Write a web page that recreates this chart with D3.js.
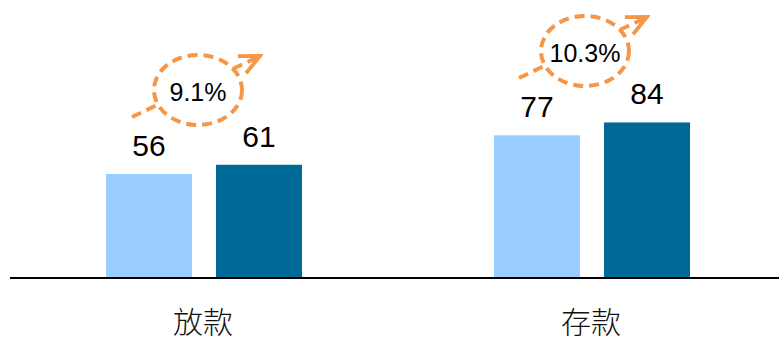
<!DOCTYPE html>
<html><head><meta charset="utf-8">
<script src="https://cdn.jsdelivr.net/npm/d3@7"></script>
<style>html,body{margin:0;padding:0;background:#fff;}</style>
</head><body><svg id="c" width="779" height="341"></svg>
<script>
const categories = ["放款", "存款"];
const seriesPrev = [56, 77];
const seriesCurr = [61, 84];
const growthLabels = ["9.1%", "10.3%"];

const svg = d3.select("#c");
const x1 = d3.scaleBand().domain(["prev","curr"]).range([0, 196]).paddingInner(24/110).paddingOuter(0);
const y = d3.scaleLinear().domain([0, 100]).range([277, 93]);
const colors = {prev: "#99CCFF", curr: "#006A96"};
const orange = "#F79646";
const offs = [106, 494];

const data = categories.map((c, i) => ({cat: c, vals: [{k:"prev", v: seriesPrev[i]}, {k:"curr", v: seriesCurr[i]}], g: growthLabels[i]}));

const groups = svg.selectAll("g.grp").data(data).join("g").attr("class","grp")
  .attr("transform", (d,i) => `translate(${offs[i]},0)`);

groups.selectAll("rect").data(d => d.vals).join("rect")
  .attr("x", d => x1(d.k)).attr("width", x1.bandwidth())
  .attr("y", d => y(d.v)).attr("height", d => y(0) - y(d.v))
  .attr("fill", d => colors[d.k]);

groups.selectAll("text.val").data(d => d.vals).join("text").attr("class","val")
  .attr("x", d => x1(d.k) + x1.bandwidth()/2)
  .attr("y", d => y(d.v) - 18)
  .attr("text-anchor","middle")
  .attr("font-family","Liberation Sans, Arial, sans-serif")
  .attr("font-size", 30)
  .attr("fill","#000")
  .text(d => d.v);

// axis line
svg.append("line").attr("x1",10).attr("x2",779).attr("y1",278).attr("y2",278)
  .attr("stroke","#000").attr("stroke-width",2);

// category labels
groups.append("text")
  .attr("x", 97).attr("y", 333)
  .attr("text-anchor","middle")
  .attr("font-family","Noto Sans CJK TC, Noto Sans CJK SC, sans-serif")
  .attr("font-weight", 300)
  .attr("font-size", 30)
  .attr("fill","#111")
  .text(d => d.cat);

// growth annotations
svg.append("defs").append("marker").attr("id","ah")
  .attr("viewBox","-3 -12 26 24").attr("refX",20).attr("refY",0)
  .attr("markerWidth",26).attr("markerHeight",24).attr("markerUnits","userSpaceOnUse")
  .attr("orient","auto")
  .append("path").attr("d","M0,-9.5 L20,0 L0,9.5").attr("fill","none")
  .attr("stroke",orange).attr("stroke-width",3.8).attr("stroke-linejoin","miter");

groups.each(function(d, i) {
  const g = d3.select(this);
  const cx = i === 0 ? 92 : 91;
  const cy = i === 0 ? 90 : 51;
  g.append("line")
    .attr("x1", cx - 66).attr("y1", cy + 27)
    .attr("x2", cx + 62).attr("y2", cy - 34)
    .attr("stroke", orange).attr("stroke-width", 4)
    .attr("stroke-dasharray","10,6")
    .attr("marker-end","url(#ah)");
  g.append("ellipse").attr("cx", cx).attr("cy", cy).attr("rx", 44).attr("ry", 35)
    .attr("fill","#fff").attr("stroke", orange).attr("stroke-width", 4)
    .attr("stroke-dasharray","10,6");
  g.append("text").attr("x", cx).attr("y", cy + 11)
    .attr("text-anchor","middle")
    .attr("font-family","Liberation Sans, Arial, sans-serif")
    .attr("font-size", 25).attr("fill","#000")
    .text(d.g);
});
</script></body></html>
